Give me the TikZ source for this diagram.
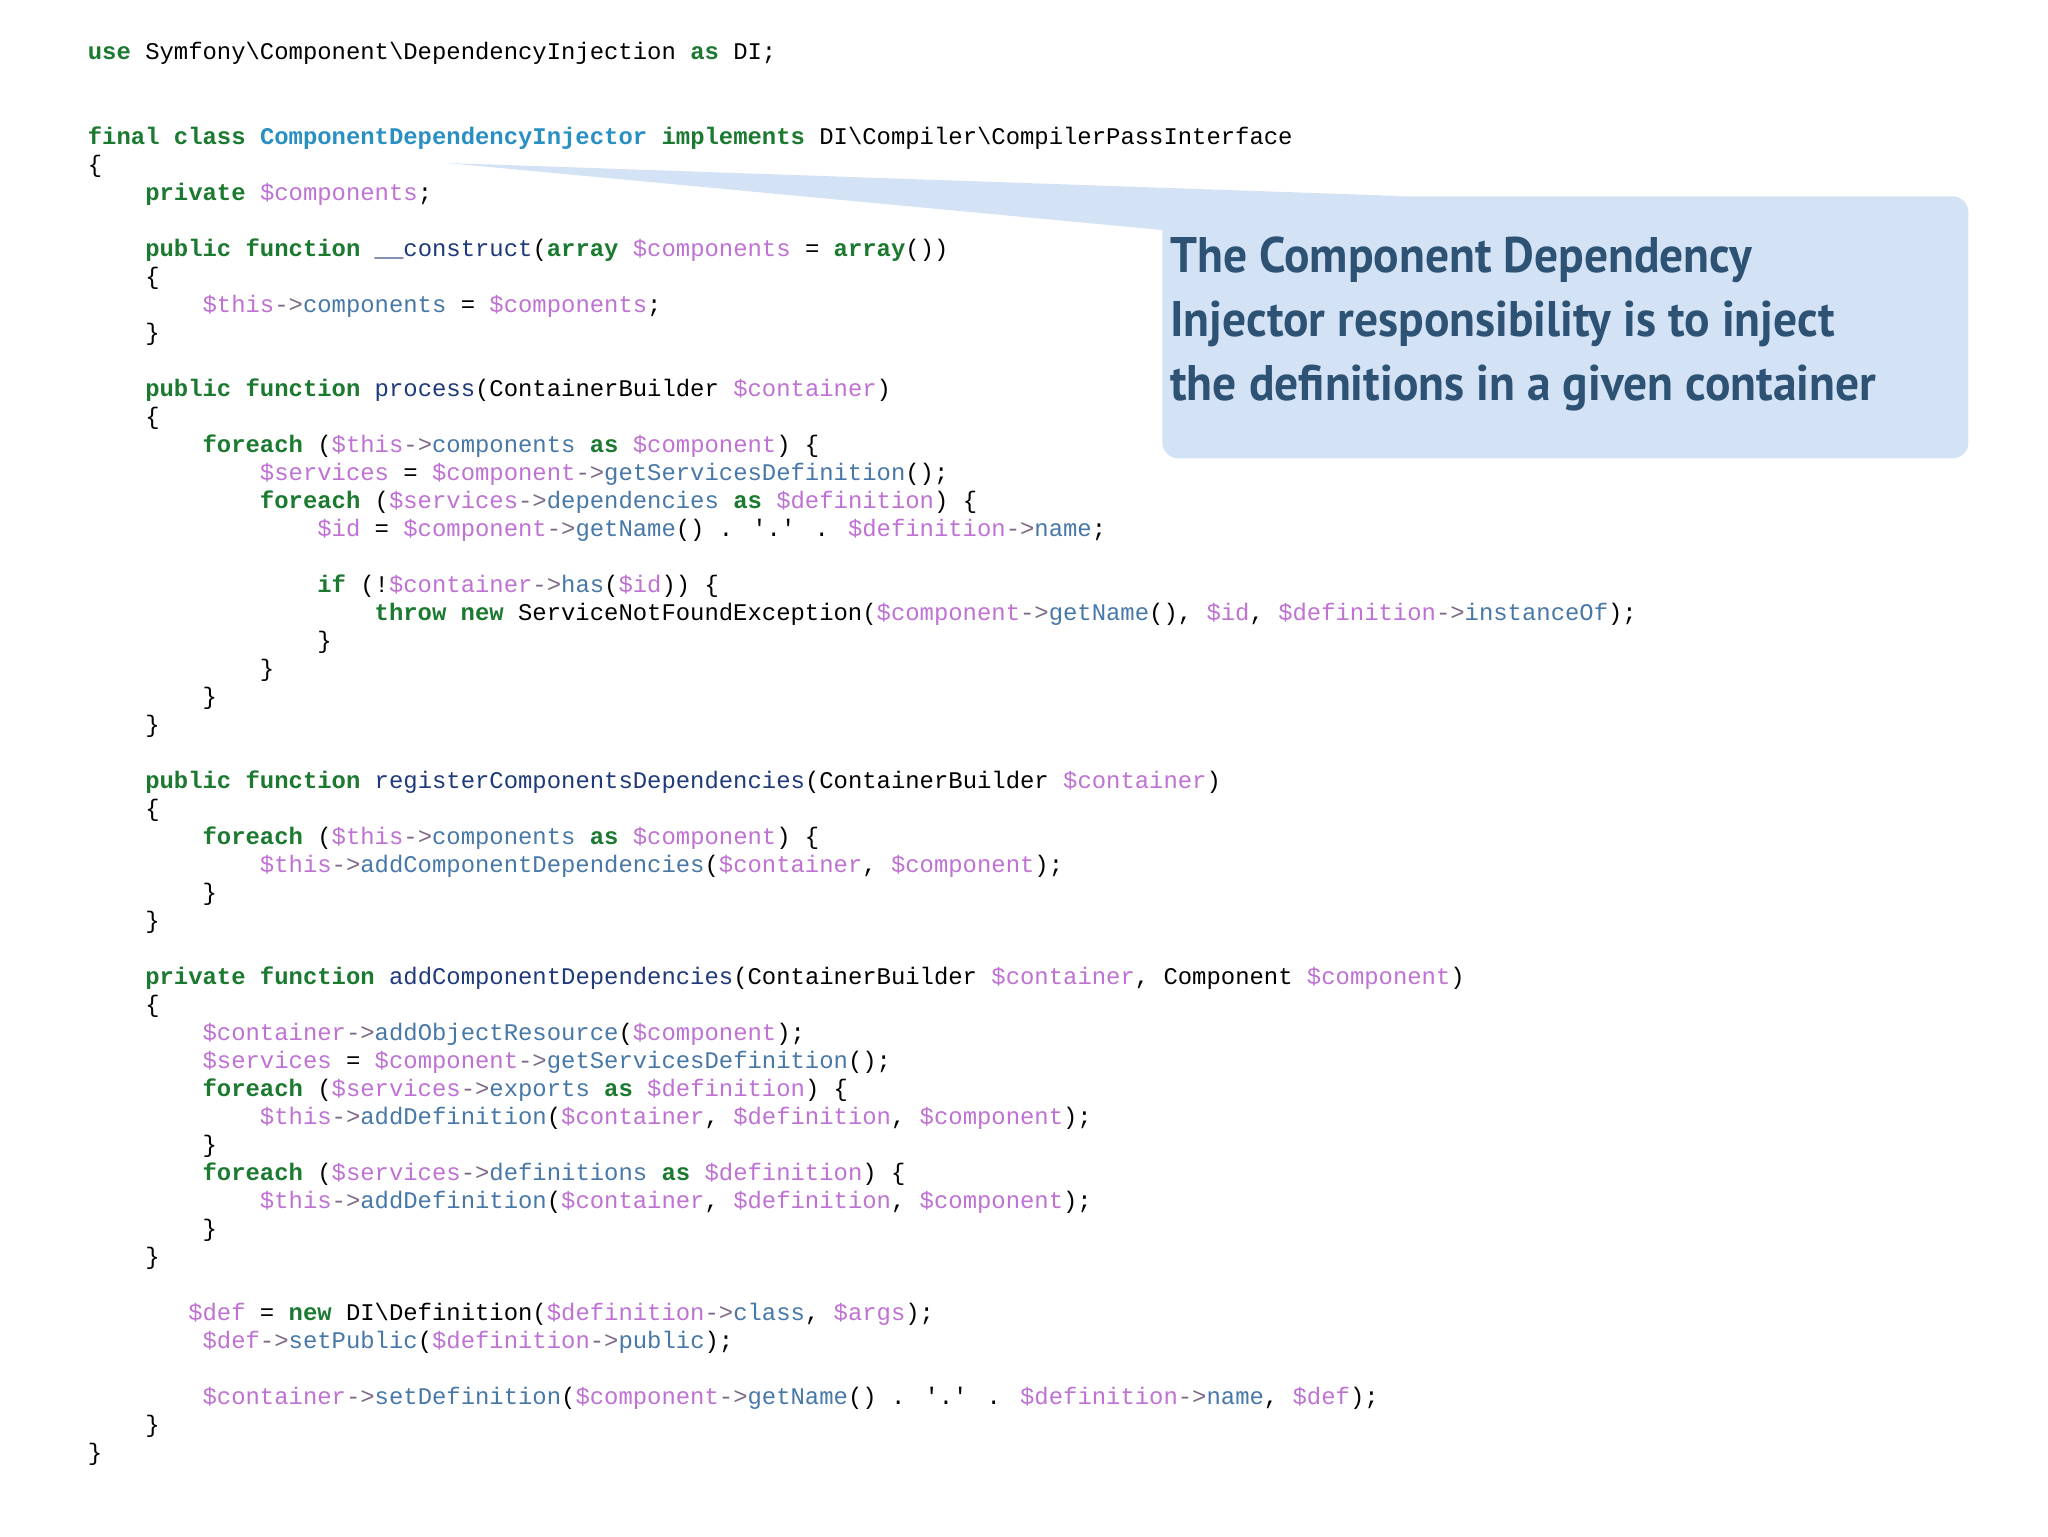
\documentclass[tikz,border=0pt]{standalone}
\usepackage{fontspec}
\newfontfamily\codefont{Liberation Mono}[WordSpace={1,0,0}]
\newfontfamily\notefont{PT Sans}
\definecolor{kw}{HTML}{1B7A2F}
\definecolor{vr}{HTML}{BF72D3}
\definecolor{mt}{HTML}{4778A8}
\definecolor{fn}{HTML}{1F3A7A}
\definecolor{cl}{HTML}{2A8FC2}
\definecolor{op}{HTML}{7E6A86}
\definecolor{note}{HTML}{D3E3F5}
\definecolor{notetext}{HTML}{2E5273}
\newcommand\K[1]{\textcolor{kw}{\bfseries #1}}
\newcommand\V[1]{\textcolor{vr}{#1}}
\newcommand\M[1]{\textcolor{mt}{#1}}
\newcommand\F[1]{\textcolor{fn}{#1}}
\newcommand\C[1]{\textcolor{cl}{\bfseries #1}}
\newcommand\A{\textcolor{op}{->}}
\newcommand\Q{\textquotesingle.\textquotesingle}
\newcommand\bs{\textbackslash}
\tikzset{codeline/.style={anchor=base west,inner sep=0pt,font=\codefont\fontsize{11.95}{14}\selectfont,text=black}}
\newcommand\codeln[4]{\node[codeline] (#1) at ({87.5+14.34*#3},{60+28*#2}) {#4};}
\begin{document}
\begin{tikzpicture}[x=0.5pt,y=-0.5pt]
\useasboundingbox (0,0) rectangle (2048,1536);
\fill[white] (0,0) rectangle (2048,1536);
% callout
\fill[note] (447,163) -- (1400,196) -- (1162,230) -- cycle;
\node[fill=note,rounded corners=8pt,minimum width=403pt,minimum height=131pt,anchor=north west,inner sep=0pt] (box) at (1162,196) {};
\node[anchor=north west,inner sep=0pt,align=left,text=notetext,font=\notefont\bfseries\fontsize{25}{32}\selectfont] (notetxt) at (1170,236) {\scalebox{0.95}[1]{The Component Dependency}\\\scalebox{0.95}[1]{Injector responsibility is to inject}\\\scalebox{0.95}[1]{the definitions in a given container}};
% code
\codeln{l0}{0}{0}{\K{use} Symfony\bs Component\bs DependencyInjection \K{as} DI;}
\codeln{l3}{3}{0}{\K{final class} \C{ComponentDependencyInjector} \K{implements} DI\bs Compiler\bs CompilerPassInterface}
\codeln{l4}{4}{0}{\{}
\codeln{l5}{5}{4}{\K{private} \V{\$components};}
\codeln{l7}{7}{4}{\K{public function} \F{\_\_construct}(\K{array} \V{\$components} = \K{array}())}
\codeln{l8}{8}{4}{\{}
\codeln{l9}{9}{8}{\V{\$this}\A\M{components} = \V{\$components};}
\codeln{l10}{10}{4}{\}}
\codeln{l12}{12}{4}{\K{public function} \F{process}(ContainerBuilder \V{\$container})}
\codeln{l13}{13}{4}{\{}
\codeln{l14}{14}{8}{\K{foreach} (\V{\$this}\A\M{components} \K{as} \V{\$component}) \{}
\codeln{l15}{15}{12}{\V{\$services} = \V{\$component}\A\M{getServicesDefinition}();}
\codeln{l16}{16}{12}{\K{foreach} (\V{\$services}\A\M{dependencies} \K{as} \V{\$definition}) \{}
\codeln{l17}{17}{16}{\V{\$id} = \V{\$component}\A\M{getName}() . \Q{} . \V{\$definition}\A\M{name};}
\codeln{l19}{19}{16}{\K{if} (!\V{\$container}\A\M{has}(\V{\$id})) \{}
\codeln{l20}{20}{20}{\K{throw new} ServiceNotFoundException(\V{\$component}\A\M{getName}(), \V{\$id}, \V{\$definition}\A\M{instanceOf});}
\codeln{l21}{21}{16}{\}}
\codeln{l22}{22}{12}{\}}
\codeln{l23}{23}{8}{\}}
\codeln{l24}{24}{4}{\}}
\codeln{l26}{26}{4}{\K{public function} \F{registerComponentsDependencies}(ContainerBuilder \V{\$container})}
\codeln{l27}{27}{4}{\{}
\codeln{l28}{28}{8}{\K{foreach} (\V{\$this}\A\M{components} \K{as} \V{\$component}) \{}
\codeln{l29}{29}{12}{\V{\$this}\A\M{addComponentDependencies}(\V{\$container}, \V{\$component});}
\codeln{l30}{30}{8}{\}}
\codeln{l31}{31}{4}{\}}
\codeln{l33}{33}{4}{\K{private function} \F{addComponentDependencies}(ContainerBuilder \V{\$container}, Component \V{\$component})}
\codeln{l34}{34}{4}{\{}
\codeln{l35}{35}{8}{\V{\$container}\A\M{addObjectResource}(\V{\$component});}
\codeln{l36}{36}{8}{\V{\$services} = \V{\$component}\A\M{getServicesDefinition}();}
\codeln{l37}{37}{8}{\K{foreach} (\V{\$services}\A\M{exports} \K{as} \V{\$definition}) \{}
\codeln{l38}{38}{12}{\V{\$this}\A\M{addDefinition}(\V{\$container}, \V{\$definition}, \V{\$component});}
\codeln{l39}{39}{8}{\}}
\codeln{l40}{40}{8}{\K{foreach} (\V{\$services}\A\M{definitions} \K{as} \V{\$definition}) \{}
\codeln{l41}{41}{12}{\V{\$this}\A\M{addDefinition}(\V{\$container}, \V{\$definition}, \V{\$component});}
\codeln{l42}{42}{8}{\}}
\codeln{l43}{43}{4}{\}}
\codeln{l45}{45}{7}{\V{\$def} = \K{new} DI\bs Definition(\V{\$definition}\A\M{class}, \V{\$args});}
\codeln{l46}{46}{8}{\V{\$def}\A\M{setPublic}(\V{\$definition}\A\M{public});}
\codeln{l48}{48}{8}{\V{\$container}\A\M{setDefinition}(\V{\$component}\A\M{getName}() . \Q{} . \V{\$definition}\A\M{name}, \V{\$def});}
\codeln{l49}{49}{4}{\}}
\codeln{l50}{50}{0}{\}}
\end{tikzpicture}
\end{document}
